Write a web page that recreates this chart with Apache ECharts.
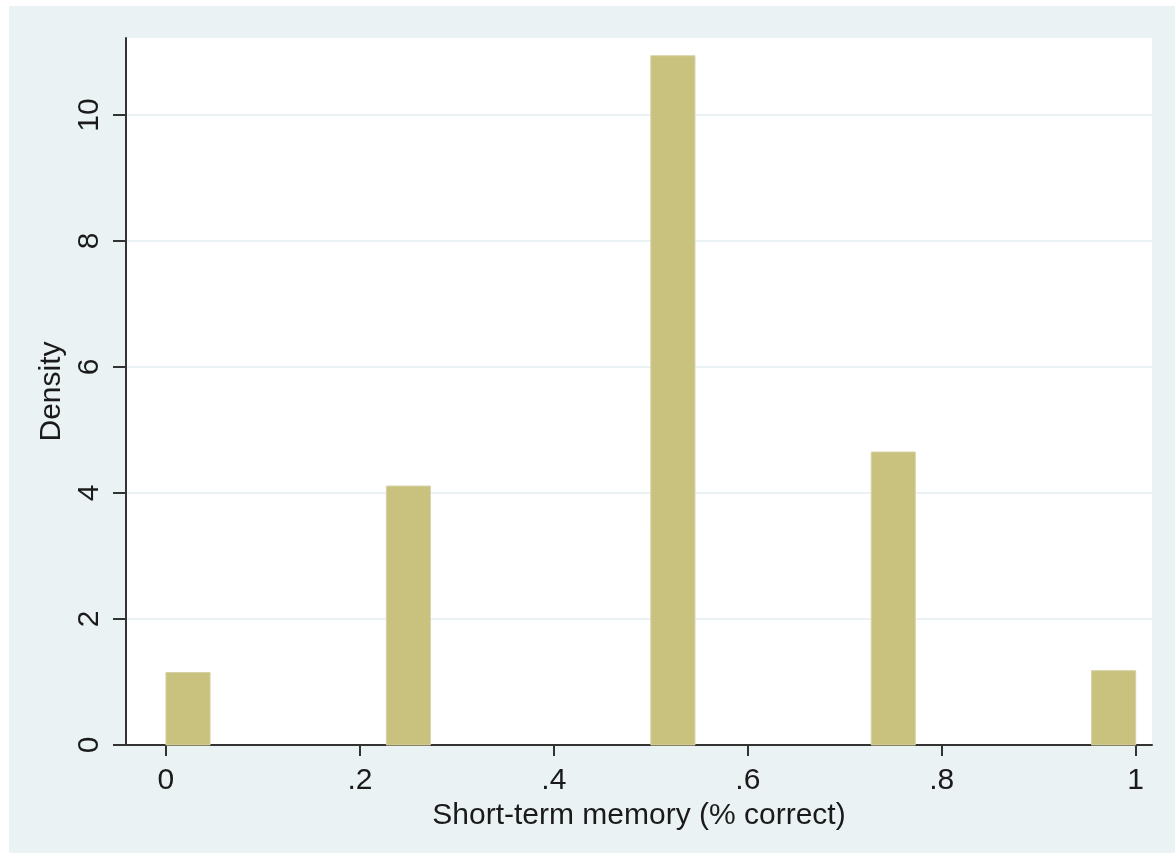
<!DOCTYPE html>
<html>
<head>
<meta charset="utf-8">
<script src="https://cdn.jsdelivr.net/npm/echarts@6/dist/echarts.min.js"></script>
<style>
  html, body { margin: 0; padding: 0; background: #ffffff; }
  #chart { width: 1175px; height: 855px; }
</style>
</head>
<body>
<div id="chart"></div>
<script>
// Histogram of short-term memory scores (22 equal-width bins over [0, 1])
const binLower = [0, 0.2273, 0.5, 0.7273, 0.9545];
const binUpper = [0.0455, 0.2727, 0.5455, 0.7727, 1.0];
const density = [1.15, 4.11, 10.94, 4.65, 1.18];

const xTickValues = [0, 0.2, 0.4, 0.6, 0.8, 1];
const xTickLabels = ['0', '.2', '.4', '.6', '.8', '1'];
const yTickValues = [0, 2, 4, 6, 8, 10];
const yTickLabels = ['0', '2', '4', '6', '8', '10'];

const barData = binLower.map((lo, i) => [lo, binUpper[i], density[i]]);

const FONT = '"Liberation Sans", Arial, sans-serif';
const FONT_SIZE = 30;
const TEXT = '#1a1a1a';
const AXIS = '#333333';

const chart = echarts.init(document.getElementById('chart'), null, { renderer: 'canvas' });

chart.setOption({
  animation: false,
  backgroundColor: '#ffffff',
  graphic: [{
    type: 'rect',
    z: -10,
    shape: { x: 9, y: 6, width: 1166, height: 847 },
    style: { fill: '#eaf2f3' }
  }],
  grid: {
    left: 126, top: 38, right: 23, bottom: 110,
    show: true, backgroundColor: '#ffffff', borderWidth: 0
  },
  xAxis: {
    type: 'value',
    min: -0.0412,
    max: 1.0168,
    name: 'Short-term memory (% correct)',
    nameLocation: 'middle',
    nameGap: 46,
    nameTextStyle: { fontFamily: FONT, fontSize: FONT_SIZE, color: TEXT },
    axisLine: { show: true, onZero: false, lineStyle: { color: AXIS, width: 2 } },
    axisTick: { show: true, length: 11, customValues: xTickValues, lineStyle: { color: AXIS, width: 2 } },
    axisLabel: {
      customValues: xTickValues,
      margin: 21,
      fontFamily: FONT, fontSize: FONT_SIZE, color: TEXT,
      formatter: v => {
        const i = xTickValues.findIndex(t => Math.abs(t - v) < 1e-9);
        return i >= 0 ? xTickLabels[i] : '';
      }
    },
    splitLine: { show: false }
  },
  yAxis: {
    type: 'value',
    min: 0,
    max: 11.222,
    interval: 2,
    name: 'Density',
    nameLocation: 'middle',
    nameRotate: 90,
    nameGap: 52,
    nameTextStyle: { fontFamily: FONT, fontSize: FONT_SIZE, color: TEXT },
    axisLine: { show: true, onZero: false, lineStyle: { color: AXIS, width: 2 } },
    axisTick: { show: true, length: 13, customValues: yTickValues, lineStyle: { color: AXIS, width: 2 } },
    axisLabel: {
      customValues: yTickValues,
      rotate: 90,
      margin: 21,
      fontFamily: FONT, fontSize: FONT_SIZE, color: TEXT,
      formatter: v => {
        const i = yTickValues.findIndex(t => Math.abs(t - v) < 1e-9);
        return i >= 0 ? yTickLabels[i] : '';
      }
    },
    splitLine: { show: true, lineStyle: { color: '#eaf2f3', width: 2 } }
  },
  series: [{
    type: 'custom',
    data: barData,
    encode: { x: [0, 1], y: 2 },
    renderItem: (params, api) => {
      const p0 = api.coord([api.value(0), 0]);
      const p1 = api.coord([api.value(1), api.value(2)]);
      return {
        type: 'rect',
        shape: { x: p0[0], y: p1[1], width: p1[0] - p0[0], height: p0[1] - p1[1] },
        style: { fill: '#c8c27e', stroke: '#d6d1a4', lineWidth: 1 }
      };
    }
  }]
});
</script>
</body>
</html>
